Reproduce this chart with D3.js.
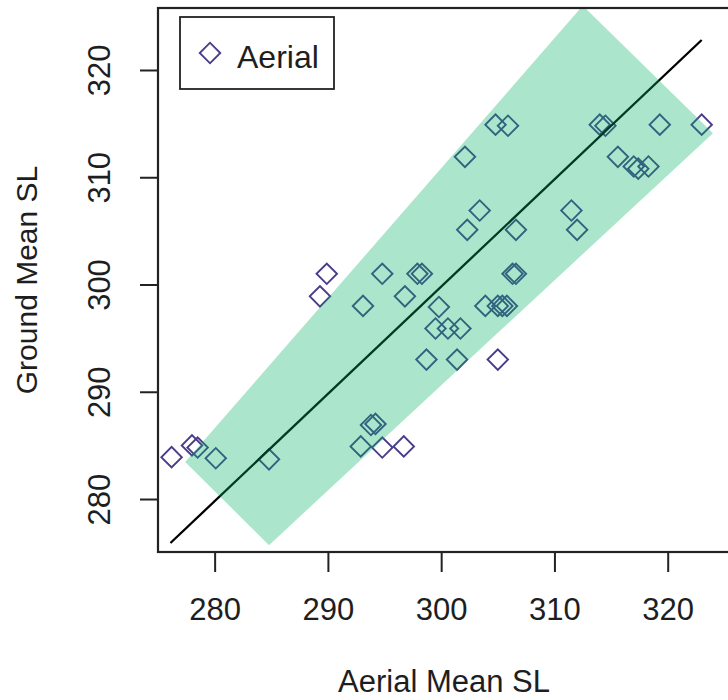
<!DOCTYPE html>
<html lang="en">
<head>
    <meta charset="UTF-8">
    <title>Aerial vs Ground Mean SL</title>
    <script src="https://d3js.org/d3.v7.min.js"></script>
    <style>
        body { margin: 0; background: #fff; }
        text { font-family: "Liberation Sans", Arial, sans-serif; fill: #1e1e1e; }
        .axis path { display: none; }
        .axis line { stroke: #222; stroke-width: 2px; }
    </style>
</head>
<body>
    <script>
        // aerial (x) and ground (y) mean SL
        const aerial = [276.2, 278.0, 278.5, 280.1, 284.8, 289.9, 289.3, 293.1, 294.8, 297.9,
                        298.3, 296.8, 299.8, 299.5, 300.6, 301.7, 298.7, 301.4, 305.0, 303.9,
                        305.0, 305.4, 305.8, 306.3, 306.6, 302.3, 306.6, 303.4, 311.5, 312.0,
                        302.1, 304.8, 305.9, 314.0, 314.5, 319.3, 323.0, 315.6, 317.0, 317.4,
                        318.3, 293.8, 294.2, 292.9, 294.8, 296.7];
        const ground = [283.9, 285.0, 284.8, 283.8, 283.7, 301.0, 298.9, 298.0, 301.0, 301.0,
                        301.0, 298.9, 297.9, 295.9, 295.9, 295.9, 293.0, 293.0, 293.0, 298.0,
                        298.0, 298.0, 298.0, 301.0, 301.0, 305.1, 305.1, 306.9, 306.9, 305.1,
                        311.9, 314.9, 314.8, 314.9, 314.8, 314.9, 314.9, 311.9, 311.0, 310.8,
                        311.0, 286.9, 287.0, 284.9, 284.8, 284.9];

        // fitted line end points
        const lineX = [276.1, 323.0];
        const lineY = [275.9, 322.8];

        // shaded band corners (left, bottom, right, top)
        const bandX = [277.4, 284.8, 324.0, 312.5];
        const bandY = [283.45, 275.7, 314.1, 326.0];

        const xTicks = [280, 290, 300, 310, 320];
        const yTicks = [280, 290, 300, 310, 320];

        const W = 728, H = 700;
        const margin = { left: 158, right: 730, top: 8, bottom: 552 };

        const x = d3.scaleLinear().domain([275, 325.5]).range([margin.left, margin.right]);
        const y = d3.scaleLinear().domain([275.06, 325.78]).range([margin.bottom, margin.top]);

        const svg = d3.select("body").append("svg")
            .attr("width", W)
            .attr("height", H);

        svg.append("defs").append("clipPath")
            .attr("id", "plotclip")
          .append("rect")
            .attr("x", margin.left).attr("y", margin.top)
            .attr("width", margin.right - margin.left)
            .attr("height", margin.bottom - margin.top);

        const plot = svg.append("g").attr("clip-path", "url(#plotclip)");

        const pts = aerial.map((a, i) => ({ x: a, y: ground[i] }));
        const diamond = d3.symbol(d3.symbolSquare, 210);

        plot.selectAll(".pt")
            .data(pts)
          .enter().append("path")
            .attr("class", "pt")
            .attr("d", diamond)
            .attr("transform", d => `translate(${x(d.x)},${y(d.y)}) rotate(45)`)
            .attr("fill", "none")
            .attr("stroke", "#483d8b")
            .attr("stroke-width", 1.9);

        plot.append("path")
            .datum(lineX.map((v, i) => [v, lineY[i]]))
            .attr("fill", "none")
            .attr("stroke", "#000")
            .attr("stroke-width", 2.3)
            .attr("d", d3.line().x(d => x(d[0])).y(d => y(d[1])));

        plot.append("path")
            .datum(bandX.map((v, i) => [v, bandY[i]]))
            .attr("fill", "rgb(0,180,100)")
            .attr("fill-opacity", 0.33)
            .attr("d", d3.line().x(d => x(d[0])).y(d => y(d[1])).curve(d3.curveLinearClosed));

        // frame
        svg.append("rect")
            .attr("x", margin.left).attr("y", margin.top)
            .attr("width", margin.right - margin.left)
            .attr("height", margin.bottom - margin.top)
            .attr("fill", "none")
            .attr("stroke", "#222")
            .attr("stroke-width", 2.2);

        const xAxis = svg.append("g")
            .attr("class", "axis")
            .attr("transform", `translate(0,${margin.bottom})`)
            .call(d3.axisBottom(x).tickValues(xTicks).tickSize(20));
        xAxis.selectAll("text")
            .attr("y", 68).attr("dy", null)
            .style("font-size", "31px");

        const yAxis = svg.append("g")
            .attr("class", "axis")
            .attr("transform", `translate(${margin.left},0)`)
            .call(d3.axisLeft(y).tickValues(yTicks).tickSize(18));
        yAxis.selectAll("text")
            .attr("transform", "rotate(-90)")
            .attr("x", 0).attr("y", -48).attr("dy", null)
            .attr("text-anchor", "middle")
            .style("font-size", "31px");

        svg.append("text")
            .attr("x", (margin.left + margin.right) / 2)
            .attr("y", 692)
            .attr("text-anchor", "middle")
            .style("font-size", "31px")
            .text("Aerial Mean SL");

        svg.append("text")
            .attr("transform", `translate(37,${(margin.top + margin.bottom) / 2}) rotate(-90)`)
            .attr("text-anchor", "middle")
            .style("font-size", "30px")
            .text("Ground Mean SL");

        // legend
        const lg = svg.append("g");
        lg.append("rect")
            .attr("x", 180).attr("y", 17)
            .attr("width", 154).attr("height", 72)
            .attr("fill", "#fff")
            .attr("stroke", "#222")
            .attr("stroke-width", 1.8);
        lg.append("path")
            .attr("d", diamond)
            .attr("transform", "translate(210,53) rotate(45)")
            .attr("fill", "none")
            .attr("stroke", "#483d8b")
            .attr("stroke-width", 1.9);
        lg.append("text")
            .attr("x", 237).attr("y", 68)
            .style("font-size", "32px")
            .text("Aerial");
    </script>
</body>
</html>
